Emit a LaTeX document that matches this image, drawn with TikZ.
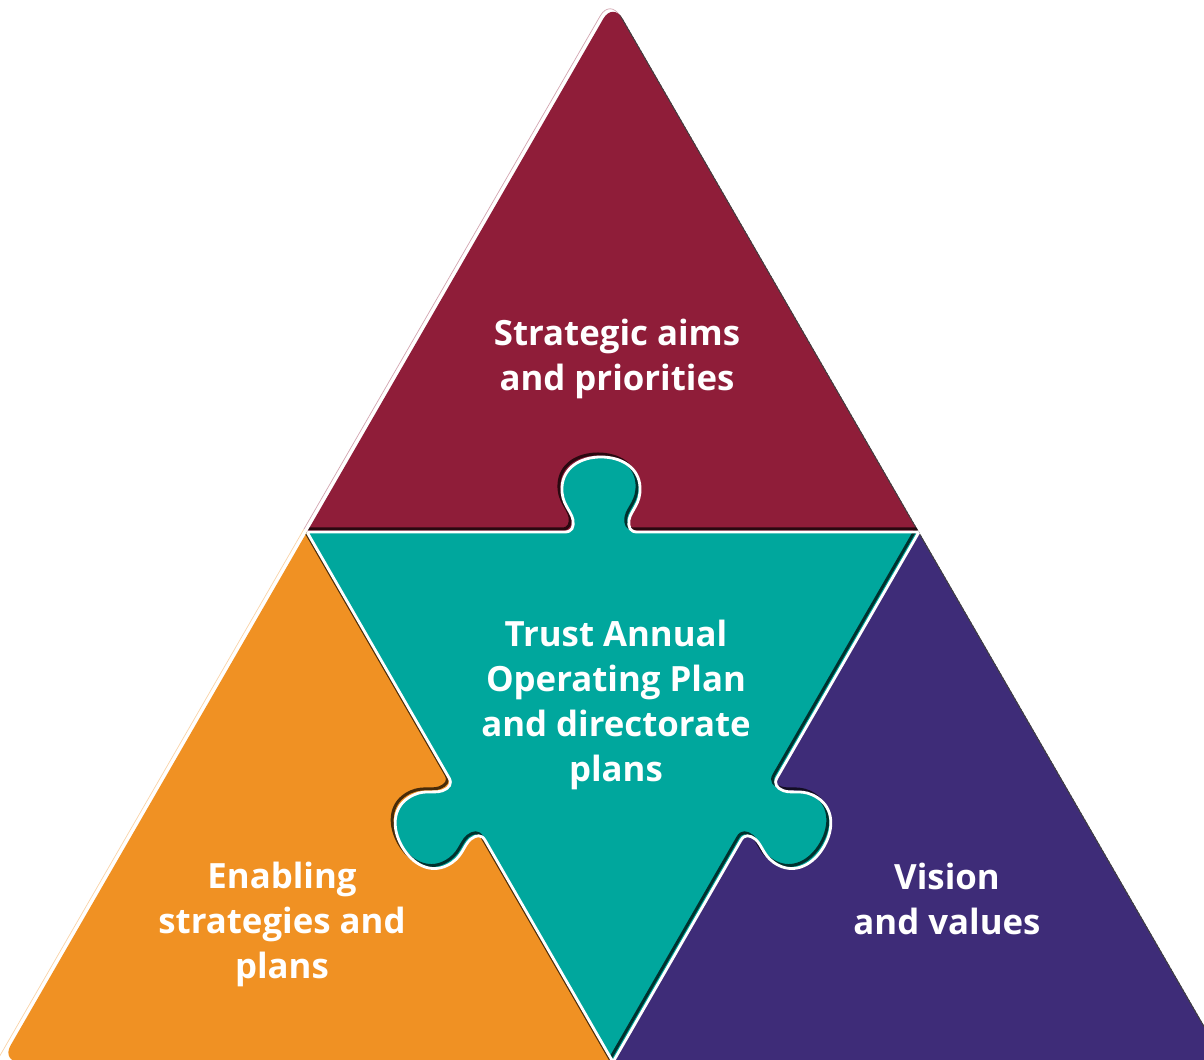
\documentclass[tikz,border=0pt]{standalone}
\usepackage{fontspec}
\setsansfont{Open Sans}
\usepackage{tikz}
\definecolor{aims}{HTML}{8F1D39}
\definecolor{plan}{HTML}{00A79D}
\definecolor{enabling}{HTML}{F09123}
\definecolor{vision}{HTML}{3E2C78}
\tikzset{
    piece-label/.style = {text=white, font=\sffamily\bfseries\fontsize{19.8}{25.6}\selectfont, align=center},
    cut-shadow/.style = {draw=black, draw opacity=0.7, line width=1.7pt},
    cut-line/.style = {draw=white, line width=1.6pt},
    ghost/.style = {line width=0.4pt, draw opacity=0.4},
    rim/.style = {draw=black!75, line width=1.1pt},
}
% one jigsaw knob, sitting on the edge it is drawn along
\newcommand{\knob}[2]{{[shift={#1}, rotate=#2] -- (-36,0)
    .. controls (-29,0) and (-27,5) .. (-28,12)
    .. controls (-30,22) and (-40,28) .. (-39,45)
    .. controls (-38,64) and (-21,75) .. (0,75)
    .. controls (21,75) and (38,64) .. (39,45)
    .. controls (40,28) and (30,22) .. (28,12)
    .. controls (27,5) and (29,0) .. (36,0)}}
\newcommand{\plancut}{(307,528) \knob{(601,528)}{0} -- (919,528)
    \knob{(759,251)}{240} -- (613,-2) \knob{(467,251)}{120} -- cycle}

\begin{document}
\begin{tikzpicture}[x=0.02cm, y=0.02cm]
\useasboundingbox (0,0) rectangle (1204,1060);

\coordinate (A) at (613,1058);
\coordinate (BL) at (1,-2);
\coordinate (BR) at (1225,-2);
\coordinate (Lm) at (307,528);
\coordinate (Rm) at (919,528);
\coordinate (Bm) at (613,-2);

% faint offset edge on the left side
\draw[ghost, enabling] (-2,1) -- (304,531);
\draw[ghost, aims, rounded corners=11pt] (304,531) -- (610,1061) -- (628,1030);

\begin{scope}
    \clip[rounded corners=11pt] (A) -- (BL) -- (BR) -- cycle;
    \fill[aims] (A) -- (Lm) -- (Rm) -- cycle;
    \fill[enabling] (Lm) -- (BL) -- (Bm) -- cycle;
    \fill[vision] (Rm) -- (Bm) -- (BR) -- cycle;
    \draw[rim] (A) -- (BR);

    \fill[plan] \plancut;
    \begin{scope}[shift={(-3,3)}]
        \draw[cut-shadow] \plancut;
    \end{scope}
    \draw[cut-line] \plancut;
\end{scope}

\node[piece-label] (aims-text) at (617,701) {Strategic aims\\and priorities};
\node[piece-label] (plan-text) at (616,355) {Trust Annual\\Operating Plan\\and directorate\\plans};
\node[piece-label] (enabling-text) at (282,136) {Enabling\\strategies and\\plans};
\node[piece-label] (vision-text) at (947,161) {Vision\\and values};
\end{tikzpicture}
\end{document}
